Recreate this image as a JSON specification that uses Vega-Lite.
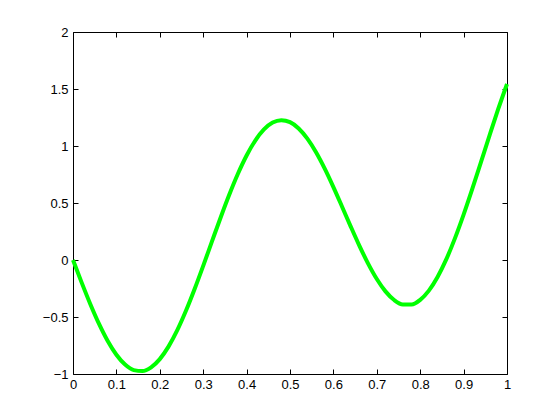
{
  "$schema": "https://vega.github.io/schema/vega-lite/v6.json",
  "autosize": "none",
  "width": 434,
  "height": 342,
  "padding": {"left": 73, "top": 32, "right": 53, "bottom": 46},
  "background": "white",
  "config": {
    "view": {"stroke": null},
    "axis": {
      "labelFont": "Liberation Sans",
      "labelFontSize": 13,
      "labelColor": "#000000",
      "domainColor": "#000000",
      "domainWidth": 1,
      "tickColor": "#000000",
      "tickSize": -5,
      "grid": false,
      "title": null
    }
  },
  "data": {"values": [
    {"x": 0, "y": 0}, {"x": 0.02, "y": -0.1983}, {"x": 0.04, "y": -0.3878}, {"x": 0.06, "y": -0.561},
    {"x": 0.08, "y": -0.711}, {"x": 0.1, "y": -0.8315}, {"x": 0.12, "y": -0.9176}, {"x": 0.14, "y": -0.9659},
    {"x": 0.16, "y": -0.974}, {"x": 0.18, "y": -0.9415}, {"x": 0.2, "y": -0.8693}, {"x": 0.22, "y": -0.7601},
    {"x": 0.24, "y": -0.6179}, {"x": 0.26, "y": -0.4479}, {"x": 0.28, "y": -0.2566}, {"x": 0.3, "y": -0.0511},
    {"x": 0.32, "y": 0.1608}, {"x": 0.34, "y": 0.3711}, {"x": 0.36, "y": 0.5721}, {"x": 0.38, "y": 0.7563},
    {"x": 0.4, "y": 0.9168}, {"x": 0.42, "y": 1.048}, {"x": 0.44, "y": 1.1452}, {"x": 0.46, "y": 1.2053},
    {"x": 0.48, "y": 1.2266}, {"x": 0.5, "y": 1.2089}, {"x": 0.52, "y": 1.1539}, {"x": 0.54, "y": 1.0644},
    {"x": 0.56, "y": 0.9449}, {"x": 0.58, "y": 0.801}, {"x": 0.6, "y": 0.6394}, {"x": 0.62, "y": 0.4675},
    {"x": 0.64, "y": 0.2931}, {"x": 0.66, "y": 0.1241}, {"x": 0.68, "y": -0.0317}, {"x": 0.7, "y": -0.167},
    {"x": 0.72, "y": -0.2753}, {"x": 0.74, "y": -0.3511}, {"x": 0.76, "y": -0.3903}, {"x": 0.78, "y": -0.3901},
    {"x": 0.8, "y": -0.3494}, {"x": 0.82, "y": -0.2683}, {"x": 0.84, "y": -0.149}, {"x": 0.86, "y": 0.0052},
    {"x": 0.88, "y": 0.1895}, {"x": 0.9, "y": 0.3979}, {"x": 0.92, "y": 0.6235}, {"x": 0.94, "y": 0.8588},
    {"x": 0.96, "y": 1.0959}, {"x": 0.98, "y": 1.3269}, {"x": 1, "y": 1.544}
  ]},
  "layer": [
    {
      "mark": {"type": "line", "color": "#00ff00", "strokeWidth": 4, "interpolate": "monotone"},
      "encoding": {
        "x": {"field": "x", "type": "quantitative", "scale": {"domain": [0, 1], "nice": false, "zero": false},
              "axis": {"orient": "bottom", "values": [0,0.1,0.2,0.3,0.4,0.5,0.6,0.7,0.8,0.9,1], "labelPadding": 9, "labelFlush": false, "labelOverlap": false, "labelExpr": "format(datum.value, '~g')"}},
        "y": {"field": "y", "type": "quantitative", "scale": {"domain": [-1, 2], "nice": false, "zero": false},
              "axis": {"orient": "left", "values": [-1,-0.5,0,0.5,1,1.5,2], "labelPadding": 10, "labelFlush": false, "labelOverlap": false, "labelExpr": "format(datum.value, '~g')"}}
      }
    },
    {
      "mark": {"type": "line", "opacity": 0},
      "encoding": {
        "x": {"field": "x", "type": "quantitative", "scale": {"domain": [0, 1], "nice": false, "zero": false},
              "axis": {"orient": "top", "values": [0,0.1,0.2,0.3,0.4,0.5,0.6,0.7,0.8,0.9,1], "labels": false}},
        "y": {"field": "y", "type": "quantitative", "scale": {"domain": [-1, 2], "nice": false, "zero": false},
              "axis": {"orient": "right", "values": [-1,-0.5,0,0.5,1,1.5,2], "labels": false}}
      }
    }
  ],
  "resolve": {"axis": {"x": "independent", "y": "independent"}}
}
